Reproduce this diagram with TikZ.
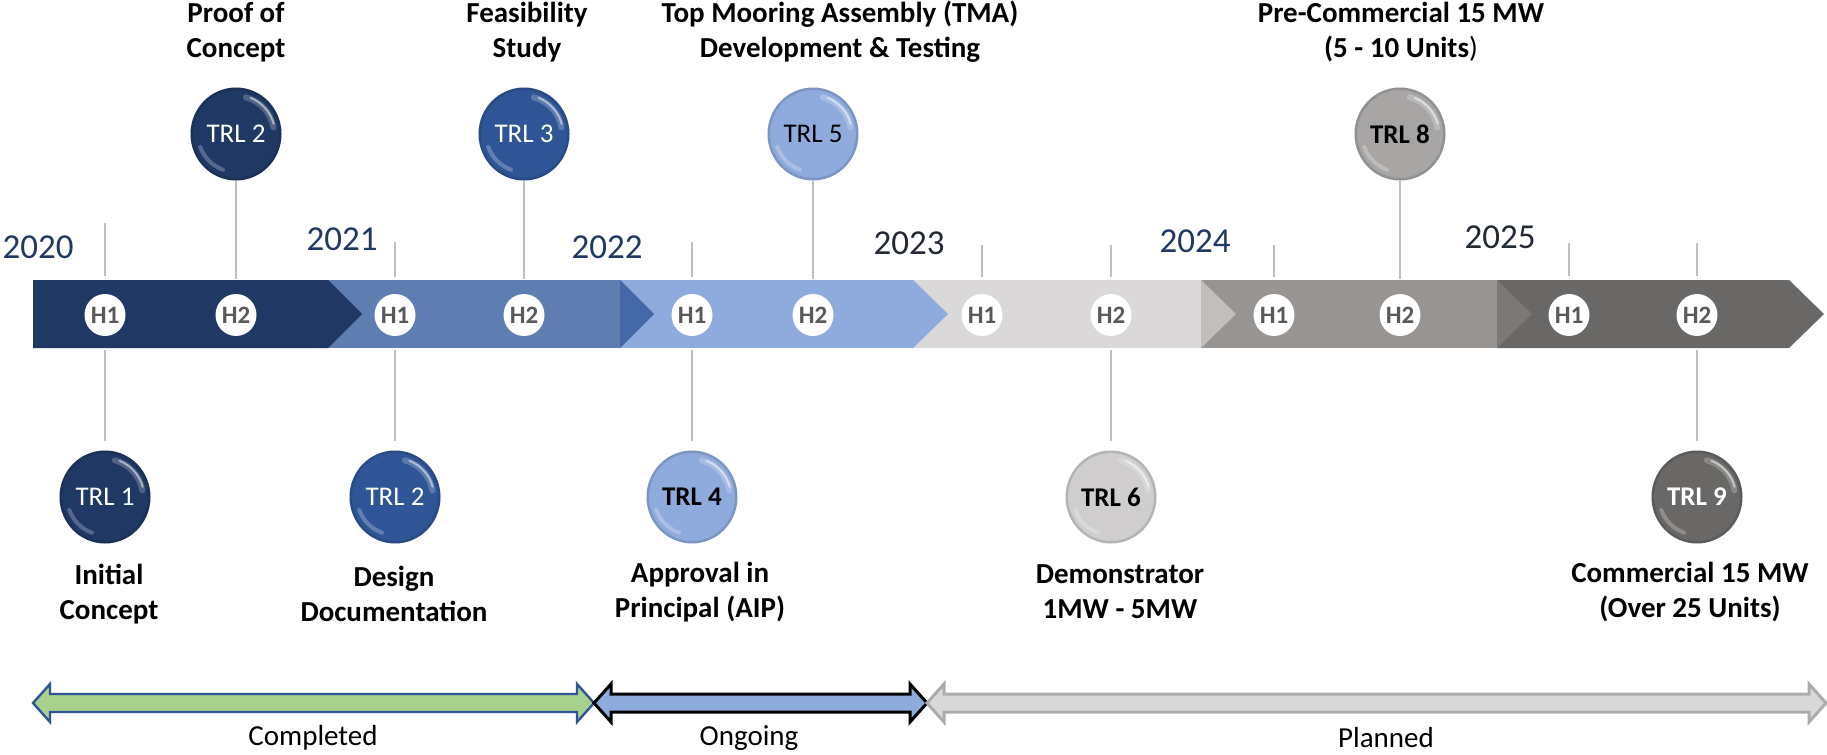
\documentclass[tikz,border=0pt]{standalone}
\usepackage{fontspec}
\setmainfont{Carlito}
\usetikzlibrary{shapes.geometric}

% palette
\definecolor{navy}{HTML}{203864}
\definecolor{midblue}{HTML}{2F5597}
\definecolor{paleblue}{HTML}{8FAADC}
\definecolor{segtwo}{HTML}{5E7EB2}
\definecolor{segtwotip}{HTML}{4568A9}
\definecolor{lgray}{HTML}{DAD8D8}
\definecolor{lgraytip}{HTML}{C0BFBD}
\definecolor{mgray}{HTML}{989492}
\definecolor{mgraytip}{HTML}{7B7876}
\definecolor{dgray}{HTML}{6A6866}
\definecolor{ballgray}{HTML}{CFCDCD}
\definecolor{ballmid}{HTML}{A8A6A5}
\definecolor{stemgray}{HTML}{BFBFBF}
\definecolor{hgray}{HTML}{595959}
\definecolor{yearblue}{HTML}{1F3864}
\definecolor{yeardark}{HTML}{222A35}
\definecolor{donegreen}{HTML}{A9D18E}
\definecolor{plannedfill}{HTML}{D9D9D9}
\definecolor{plannededge}{HTML}{AEABAB}

\tikzset{
  hbadge/.style={ellipse, fill=white, minimum width=20.5pt, minimum height=21pt,
    inner sep=0pt, text=hgray, font=\bfseries\fontsize{12.5}{12.5}\selectfont},
  balloon/.style={ellipse, fill=#1, minimum width=45.5pt, minimum height=46.5pt,
    inner sep=0pt, font=\fontsize{13.5}{13.5}\selectfont,
    path picture={
      % soft rim shadow
      \draw[black, opacity=.12, line width=2pt]
        (path picture bounding box.center) circle[x radius=22.5pt, y radius=23pt];
      % glossy sheen, upper right
      \draw[white, opacity=.22, line width=3pt, line cap=round]
        (path picture bounding box.center) ++(10:19pt) arc[start angle=10, end angle=75, radius=19pt];
      \draw[white, opacity=.5, line width=1pt, line cap=round]
        (path picture bounding box.center) ++(15:19.5pt) arc[start angle=15, end angle=68, radius=19.5pt];
      % faint reflection, lower left
      \draw[white, opacity=.25, line width=2pt, line cap=round]
        (path picture bounding box.center) ++(200:19pt) arc[start angle=200, end angle=250, radius=19pt];
    }},
  boldtrl/.style={font=\bfseries\fontsize{13.5}{13.5}\selectfont},
  stem/.style={draw=stemgray, line width=1.25pt},
  milestone/.style={align=center, inner sep=0pt, font=\bfseries\fontsize{14.5}{17.5}\selectfont},
  year/.style={inner sep=0pt, text=yearblue, font=\fontsize{17.5}{17.5}\selectfont},
  legendtext/.style={inner sep=0pt, font=\fontsize{14.5}{14.5}\selectfont},
}

% double-headed legend arrow between two tip abscissae
\newcommand\legendarrow[3]{%
  \draw[#3] (#1,703) -- (#1+17,684) -- (#1+17,694) -- (#2-17,694) -- (#2-17,684)
    -- (#2,703) -- (#2-17,722) -- (#2-17,712) -- (#1+17,712) -- (#1+17,722) -- cycle;}

\begin{document}
\begin{tikzpicture}[x=0.5pt, y=-0.5pt]
\useasboundingbox (0,0) rectangle (1827,755);
\fill[white] (0,0) rectangle (1827,755);

% ---- chevron band, drawn right to left so each tip overlays the next segment
\fill[dgray] (1497,280) -- (1789,280) -- (1824,314) -- (1789,348) -- (1497,348) -- cycle;
\fill[mgray] (1201,280) rectangle (1497,348);
\fill[mgraytip] (1497,280) -- (1532,314) -- (1497,348) -- cycle;
\fill[lgray] (913,280) rectangle (1201,348);
\fill[lgraytip] (1201,280) -- (1236,314) -- (1201,348) -- cycle;
\fill[paleblue] (620,280) rectangle (913,348);
\fill[paleblue] (913,280) -- (948,314) -- (913,348) -- cycle;
\fill[segtwo] (328,280) rectangle (620,348);
\fill[segtwotip] (620,280) -- (654,314) -- (620,348) -- cycle;
\fill[navy] (33,280) -- (328,280) -- (362,314) -- (328,348) -- (33,348) -- cycle;

% ---- half-year badges
\foreach \n/\x/\t in {1/105/H1, 2/236/H2, 3/395/H1, 4/524/H2, 5/692/H1, 6/813/H2,
                      7/982/H1, 8/1111/H2, 9/1274/H1, 10/1400/H2, 11/1569/H1, 12/1697/H2}
  \node[hbadge] (h\n) at (\x,315) {\t};

% ---- short ticks above the band
\draw[stem] (105,223) -- (105,276);
\draw[stem] (395,242) -- (395,277);
\draw[stem] (692,242) -- (692,277);
\draw[stem] (982,245) -- (982,277);
\draw[stem] (1111,245) -- (1111,277);
\draw[stem] (1274,245) -- (1274,277);
\draw[stem] (1569,243) -- (1569,276);
\draw[stem] (1697,243) -- (1697,276);

% ---- years
\node[year] (y20) at (38,247) {2020};
\node[year] (y21) at (342,239) {2021};
\node[year] (y22) at (607,247) {2022};
\node[year, text=yeardark] (y23) at (909,243) {2023};
\node[year] (y24) at (1195,241) {2024};
\node[year, text=yeardark] (y25) at (1500,237) {2025};

% ---- milestones above the band
\node[balloon=navy, text=white] (trl2a) at (236,134) {TRL 2};
\node[balloon=midblue, text=white] (trl3) at (524,134) {TRL 3};
\node[balloon=paleblue, text=black] (trl5) at (813,134) {TRL 5};
\node[balloon=ballmid, text=black, boldtrl] (trl8) at (1400,134) {TRL 8};

\coordinate (ta) at (236,279);
\coordinate (tb) at (524,279);
\coordinate (tc) at (813,279);
\coordinate (td) at (1400,279);
\draw[stem] (trl2a) -- (ta);
\draw[stem] (trl3) -- (tb);
\draw[stem] (trl5) -- (tc);
\draw[stem] (trl8) -- (td);

\node[milestone] (lproof) at (236,32) {Proof of\\Concept};
\node[milestone] (lfeas) at (527,32) {Feasibility\\Study};
\node[milestone] (ltma) at (840,32) {Top Mooring Assembly (TMA)\\Development \& Testing};
\node[milestone] (lpre) at (1401,32) {Pre-Commercial 15 MW\\(5 - 10 Units{\mdseries)}};

% ---- milestones below the band
\node[balloon=navy, text=white] (trl1) at (105,497) {TRL 1};
\node[balloon=midblue, text=white] (trl2b) at (395,497) {TRL 2};
\node[balloon=paleblue, text=black, boldtrl] (trl4) at (692,497) {TRL 4};
\node[balloon=ballgray, text=black, boldtrl] (trl6) at (1111,497) {TRL 6};
\node[balloon=dgray, text=white, boldtrl] (trl9) at (1697,497) {TRL 9};

\coordinate (ba) at (105,350);
\coordinate (bb) at (395,350);
\coordinate (bc) at (692,350);
\coordinate (bd) at (1111,350);
\coordinate (be) at (1697,350);
\draw[stem, shorten >=4.5pt] (ba) -- (trl1);
\draw[stem, shorten >=4.5pt] (bb) -- (trl2b);
\draw[stem, shorten >=4.5pt] (bc) -- (trl4);
\draw[stem, shorten >=4.5pt] (bd) -- (trl6);
\draw[stem, shorten >=4.5pt] (be) -- (trl9);

\node[milestone] (linit) at (109,594) {Initial\\Concept};
\node[milestone] (ldesign) at (394,594) {Design\\Documentation};
\node[milestone] (laip) at (700,592) {Approval in\\Principal (AIP)};
\node[milestone] (ldemo) at (1120,592) {Demonstrator\\1MW - 5MW};
\node[milestone] (lcomm) at (1690,592) {Commercial 15 MW\\(Over 25 Units)};

% ---- status legend
\legendarrow{33}{594}{fill=donegreen, draw=midblue, line width=1.2pt}
\legendarrow{594}{927}{fill=paleblue, draw=black, line width=1.5pt}
\legendarrow{927}{1826}{fill=plannedfill, draw=plannededge, line width=1.5pt}
\node[legendtext] (lcomp) at (313,738) {Completed};
\node[legendtext] (lon) at (749,738) {Ongoing};
\node[legendtext] (lplan) at (1386,738) {Planned};
\end{tikzpicture}
\end{document}
